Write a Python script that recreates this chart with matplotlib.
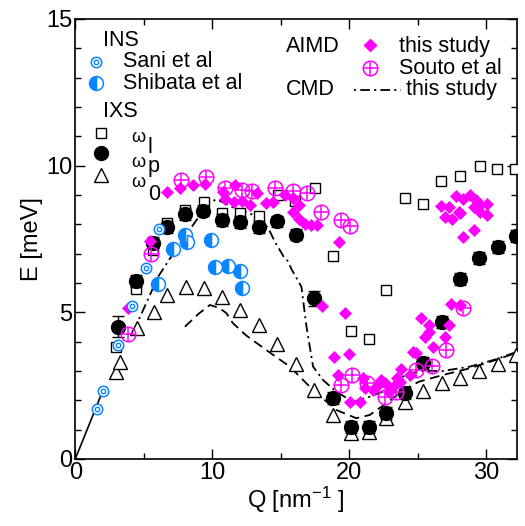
import matplotlib
matplotlib.use("Agg")
import matplotlib.pyplot as plt
from matplotlib.ticker import MultipleLocator

plt.rcParams["font.family"] = ["Liberation Sans", "DejaVu Sans"]
plt.rcParams["mathtext.fontset"] = "custom"
plt.rcParams["mathtext.rm"] = "Liberation Sans"
plt.rcParams["mathtext.it"] = "Liberation Sans:italic"
plt.rcParams["lines.scale_dashes"] = False

BLUE = "#0a84ff"
MAG = "#ff00ff"

# INS, Sani et al
sani_q = [1.59, 2.0, 3.09, 4.11, 5.13, 6.12]
sani_e = [1.70, 2.32, 3.89, 5.23, 6.50, 7.83]
sound_q = [0.0, 2.0]
sound_e = [0.0, 2.32]

# INS, Shibata et al
shib_q = [6.05, 7.10, 8.0, 8.12, 9.89, 10.23, 11.13, 12.03, 12.17]
shib_e = [5.96, 7.16, 7.65, 7.39, 7.47, 6.56, 6.59, 6.41, 5.82]

# IXS omega_l
wl_q = [3.0, 4.42, 5.69, 6.7, 8.04, 9.37, 10.7, 12.05, 13.41, 14.8, 16.0,
        17.47, 18.8, 20.1, 21.4, 22.7, 24.03, 25.37, 26.7, 28.1, 29.5, 30.8, 32.1]
wl_e = [3.83, 5.78, 7.13, 8.05, 8.49, 8.75, 8.38, 8.39, 8.29, 9.0, 8.8,
        9.23, 6.93, 4.36, 4.08, 5.76, 8.91, 8.68, 9.49, 9.66, 9.99, 9.88, 9.89]

# IXS omega_p
wp_q = [3.14, 4.42, 5.69, 6.7, 8.0, 9.33, 10.71, 12.05, 13.41, 14.75, 16.09,
        17.42, 18.8, 20.1, 21.43, 22.7, 24.03, 25.37, 26.73, 28.09, 29.45, 30.83, 32.17]
wp_e = [4.51, 6.07, 7.38, 7.92, 8.35, 8.47, 8.15, 8.07, 7.92, 8.10, 7.65,
        5.48, 2.07, 1.08, 1.08, 1.56, 2.26, 3.26, 4.68, 6.13, 6.84, 7.22, 7.60]
wp_err = [0.35, 0.2, 0.2, 0.2, 0.2, 0.2, 0.2, 0.2, 0.2, 0.2, 0.2,
          0.25, 0.2, 0.2, 0.2, 0.2, 0.2, 0.2, 0.2, 0.2, 0.2, 0.2, 0.2]

# IXS omega_0
w0_q = [2.97, 3.26, 4.47, 5.74, 6.71, 8.05, 9.38, 10.71, 12.05, 13.41, 14.72,
        16.09, 17.42, 18.8, 20.1, 21.43, 22.7, 24.03, 25.37, 26.73, 28.09, 29.45, 30.83, 32.17]
w0_e = [2.98, 3.32, 4.46, 5.02, 5.59, 5.87, 5.82, 5.53, 5.08, 4.57, 3.92,
        3.23, 2.35, 1.50, 0.88, 0.93, 1.39, 1.95, 2.33, 2.60, 2.75, 3.00, 3.24, 3.55]

# AIMD, this study
aimd_q = [3.87, 5.44, 6.66, 7.66, 8.6, 9.5, 10.79, 10.95, 11.55, 11.64, 12.2, 12.73,
          13.25, 13.9, 14.43, 15.28, 15.89, 15.89, 16.33, 16.33, 16.74, 17.23, 17.64,
          19.24, 18.03, 19.66, 18.88, 19.97, 19.17, 20.02, 20.75, 20.99, 21.11, 21.72,
          22.0, 22.3, 22.57, 22.9, 23.18, 23.45, 23.67, 23.74, 24.4, 24.64, 24.89,
          25.25, 25.49, 25.8, 25.8, 26.1, 26.95, 27.26, 27.43, 28.04, 28.28, 29.06,
          26.66, 27.24, 27.75, 28.04, 28.28, 28.77, 29.26, 29.5, 30.06, 30.03, 29.5,
          26.95, 27.5, 27.99, 29.08]
aimd_e = [5.16, 7.44, 9.10, 9.23, 9.35, 9.36, 9.11, 8.86, 8.75, 9.34, 8.81, 8.66,
          9.06, 8.73, 8.77, 9.0, 8.43, 8.89, 8.66, 8.17, 8.01, 7.98, 7.98,
          7.41, 5.22, 4.97, 3.49, 3.57, 2.86, 1.95, 1.95, 2.75, 2.41, 2.35,
          2.5, 2.7, 2.58, 2.3, 2.47, 2.75, 2.64, 3.07, 2.86, 3.66, 3.6,
          4.80, 4.17, 4.57, 4.34, 3.83, 4.15, 4.57, 5.27, 5.25, 7.56, 7.81,
          8.64, 8.58, 8.97, 8.40, 8.85, 9.0, 8.83, 8.66, 8.68, 8.32, 8.43,
          8.26, 8.18, 8.41, 8.60]

# AIMD, Souto et al
souto_q = [3.87, 5.49, 7.68, 9.53, 10.91, 12.13, 12.93, 14.56, 15.89, 16.94, 17.91,
           19.42, 20.07, 19.37, 20.22, 21.28, 22.57, 23.43, 24.88, 26.05, 27.07, 28.28]
souto_e = [4.25, 6.99, 9.51, 9.63, 9.23, 9.17, 9.15, 9.23, 9.15, 9.06, 8.41,
           8.15, 7.95, 2.52, 2.86, 2.60, 2.12, 2.29, 3.03, 3.17, 3.72, 5.16]

# CMD, this study
cmd_q = [4.24, 6.05, 7.63, 9.21, 9.8, 10.3, 11.0, 11.8, 12.6, 13.5, 14.1, 14.56,
         15.2, 15.5, 15.8, 16.5, 16.87, 17.35, 18.08, 19.05, 20.26, 21.48, 22.7,
         23.9, 25.1, 26.8, 28.8, 30.7, 32.2]
cmd_e = [4.34, 6.22, 7.35, 8.38, 8.75, 8.85, 8.7, 8.5, 8.4, 8.2, 7.85, 7.41,
         6.9, 6.75, 6.45, 5.87, 4.51, 3.15, 2.69, 2.29, 1.95, 2.12, 2.35,
         2.81, 3.0, 3.0, 3.15, 3.4, 3.65]

# dashed curve
dash_q = [8.0, 9.0, 9.82, 10.5, 11.03, 11.5, 12.5, 14.19, 15.65, 17.35, 19.05,
          20.5, 21.48, 22.7, 23.9, 25.1, 26.8, 28.77, 30.7, 32.2]
dash_e = [4.51, 4.95, 5.25, 5.15, 4.97, 4.63, 4.2, 3.63, 3.15, 2.35, 1.67,
          1.39, 1.50, 1.90, 2.35, 2.64, 2.86, 3.09, 3.38, 3.62]

DASHDOT = (0, (7, 3, 1.5, 3))
DASHED = (0, (7, 4))


def sani_marker(ax, q, e, ms=7.5):
    ax.plot(q, e, "o", ms=ms, mfc="white", mec=BLUE, mew=1.1, ls="none", zorder=6)
    ax.plot(q, e, "o", ms=ms * 0.42, mfc="none", mec=BLUE, mew=1.0, ls="none", zorder=6)


def shibata_marker(ax, q, e, ms=10):
    ax.plot(q, e, "o", ms=ms, fillstyle="left", mfc=BLUE, mfcalt="white",
            mec=BLUE, mew=1.1, ls="none", zorder=6)


def souto_marker(ax, q, e, ms=10.5):
    ax.plot(q, e, "o", ms=ms, mfc="none", mec=MAG, mew=1.1, ls="none", zorder=5)
    ax.plot(q, e, "+", ms=ms, mec=MAG, mew=1.1, ls="none", zorder=5)


fig = plt.figure(figsize=(5.25, 5.26), dpi=100)
ax = fig.add_axes([0.1434, 0.1274, 0.8406, 0.8365])

ax.plot(sound_q, sound_e, color="black", lw=1.2, zorder=3)
ax.plot(cmd_q, cmd_e, color="black", lw=1.3, ls=DASHDOT, zorder=3)
ax.plot(dash_q, dash_e, color="black", lw=1.3, ls=DASHED, zorder=3)

ax.plot(wl_q, wl_e, "s", ms=7.5, mfc="white", mec="black", mew=1.0, ls="none", zorder=4)
ax.plot(w0_q, w0_e, "^", ms=10, mfc="white", mec="black", mew=1.0, ls="none", zorder=4)
ax.errorbar(wp_q, wp_e, yerr=wp_err, fmt="o", ms=10, color="black", ecolor="black",
            elinewidth=1.0, capsize=4, capthick=1.0, zorder=4)

ax.plot(aimd_q, aimd_e, "D", ms=6.5, mfc=MAG, mec=MAG, mew=0.5, ls="none", zorder=5)
souto_marker(ax, souto_q, souto_e)
sani_marker(ax, sani_q, sani_e)
shibata_marker(ax, shib_q, shib_e)

ax.set_xlim(0, 32.2)
ax.set_ylim(0, 15)
ax.xaxis.set_major_locator(MultipleLocator(10))
ax.xaxis.set_minor_locator(MultipleLocator(5))
ax.yaxis.set_major_locator(MultipleLocator(5))
ax.yaxis.set_minor_locator(MultipleLocator(1))
ax.tick_params(which="both", direction="in", top=True, right=True,
               labelsize=17, width=1.0, pad=2)
ax.tick_params(which="major", length=7)
ax.tick_params(which="minor", length=4)
for sp in ax.spines.values():
    sp.set_linewidth(1.2)

ax.set_xlabel(r"Q [nm$^{-1}$ ]", fontsize=17, labelpad=1)
ax.set_ylabel("E [meV]", fontsize=17, labelpad=2)

# key, left block
fs = 15.5
ax.text(2.0, 14.28, "INS", fontsize=fs, va="center")
sani_marker(ax, [1.51], [13.54])
ax.text(3.45, 13.54, "Sani et al", fontsize=fs, va="center")
shibata_marker(ax, [1.51], [12.82])
ax.text(3.45, 12.80, "Shibata et al", fontsize=fs, va="center")
ax.text(2.0, 11.83, "IXS", fontsize=fs, va="center")
ax.plot([1.87], [11.12], "s", ms=7.5, mfc="white", mec="black", mew=1.0)
ax.plot([1.87], [10.43], "o", ms=10, color="black")
ax.plot([1.87], [9.68], "^", ms=10, mfc="white", mec="black", mew=1.0)
for we, sub, se in [(10.82, "l", 10.43), (9.96, "p", 9.79), (9.27, "0", 8.83)]:
    ax.text(4.05, we, "\u03c9", fontsize=13, va="baseline")
    ax.text(5.28, se, sub, fontsize=fs, va="baseline")

# key, right block
ax.text(15.4, 14.05, "AIMD", fontsize=fs, va="center")
ax.plot([21.48], [14.12], "D", ms=6.5, mfc=MAG, mec=MAG)
ax.text(23.65, 14.05, "this study", fontsize=fs, va="center")
souto_marker(ax, [21.48], [13.33])
ax.text(23.65, 13.3, "Souto et al", fontsize=fs, va="center")
ax.text(15.4, 12.58, "CMD", fontsize=fs, va="center")
ax.plot([20.3, 23.8], [12.58, 12.58], color="black", lw=1.3, ls=(0, (1.5, 3, 7, 3)))
ax.text(24.1, 12.58, "this study", fontsize=fs, va="center")

fig.savefig("out.png", dpi=100)
